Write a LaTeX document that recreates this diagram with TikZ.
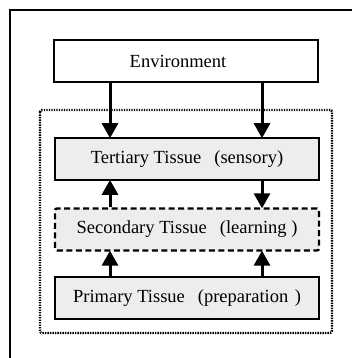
\documentclass[tikz,border=0pt]{standalone}
\usepackage{fontspec}
\setmainfont{Liberation Serif}
\usetikzlibrary{arrows.meta}
\begin{document}
\begin{tikzpicture}[x=1pt,y=-1pt,
  box/.style={draw, line width=1.7pt, minimum width=264pt, minimum height=42pt, inner sep=0pt,
    font=\fontsize{18.5}{22}\selectfont},
  grey/.style={fill=black!7},
  arr/.style={line width=3pt, -{Triangle[length=15pt,width=16pt]}, shorten >=-1pt}
  ]
\useasboundingbox (0,0) rectangle (352,358);
\fill[white] (0,0) rectangle (352,358);
% outer frame (only top and left visible)
\draw[line width=1.6pt] (10,358) -- (10,10) -- (352,10);
% dotted group
\draw[line width=2.4pt, dash pattern=on 1.4pt off 1.1pt, rounded corners=2pt] (40,110) rectangle (332,333);
\node[box, fill=white] (env) at (186,61) {Environment\hspace*{16pt}};
\node[box, grey] (ter) at (187,159) {Tertiary Tissue\hspace{0.7em}(sensory)};
\node[box, grey, dash pattern=on 6pt off 3.5pt, line width=2.4pt, rounded corners=2pt] (sec) at (187,229.5) {Secondary Tissue\hspace{0.7em}(learning )};
\node[box, grey] (pri) at (187,298) {Primary Tissue\hspace{0.7em}(preparation\hspace{0.35em})};
\coordinate (L) at (110,0);
\coordinate (R) at (262,0);
\draw[arr] (env.south -| L) -- (ter.north -| L);
\draw[arr] (env.south -| R) -- (ter.north -| R);
\draw[arr] (sec.north -| L) -- (ter.south -| L);
\draw[arr] (ter.south -| R) -- (sec.north -| R);
\draw[arr] (pri.north -| L) -- (sec.south -| L);
\draw[arr] (pri.north -| R) -- (sec.south -| R);
\end{tikzpicture}
\end{document}
